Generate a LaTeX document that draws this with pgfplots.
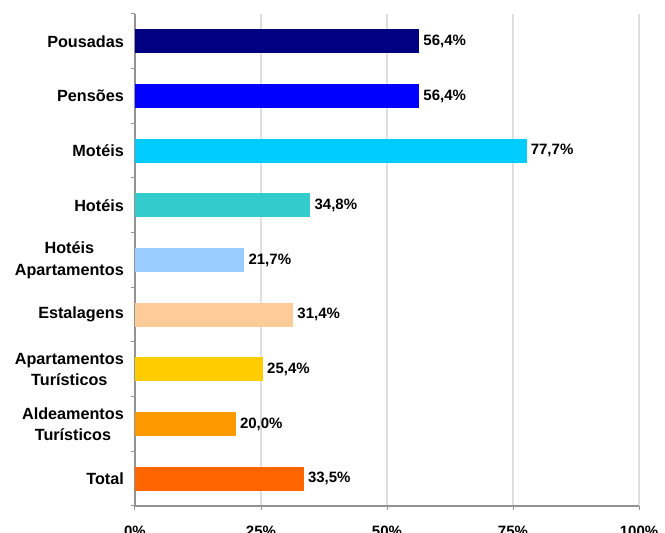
\documentclass[border=0pt]{standalone}
\usepackage{fontspec}
\setmainfont{Liberation Sans}
\usepackage{pgfplots}
\pgfplotsset{compat=1.18}

\definecolor{cPous}{HTML}{000080}
\definecolor{cPens}{HTML}{0000FF}
\definecolor{cMote}{HTML}{00CCFF}
\definecolor{cHote}{HTML}{33CCCC}
\definecolor{cHApt}{HTML}{99CCFF}
\definecolor{cEsta}{HTML}{FFCC99}
\definecolor{cApTu}{HTML}{FFCC00}
\definecolor{cAlTu}{HTML}{FF9900}
\definecolor{cTot}{HTML}{FF6600}

\newcommand\lbl{\fontsize{15}{21}\selectfont\bfseries}
\newcommand\cat{\fontsize{16.2}{21.5}\selectfont\bfseries}

\begin{document}
\begin{tikzpicture}
\begin{axis}[
    width=504pt, height=492pt, scale only axis,
    xbar, bar width=24pt, bar shift=0pt,
    xmin=0, xmax=100, ymin=-0.5, ymax=8.5,
    axis x line*=bottom, axis y line*=left,
    axis line style={draw=gray!85, line width=1.2pt},
    /pgf/number format/assume math mode=true,
    xtick={0,25,50,75,100},
    xticklabel={\pgfmathprintnumber{\tick}\%},
    xmajorgrids, grid style={draw=gray!25, line width=1.5pt},
    ytick={0,...,8},
    yticklabels={Total,{Aldeamentos\\Turísticos},{Apartamentos\\Turísticos},
        Estalagens,{Hotéis\\Apartamentos},Hotéis,Motéis,Pensões,Pousadas},
    minor ytick={-0.5,0.5,...,8.5},
    major y tick style={draw=none},
    tick align=outside,
    major tick length=4pt, minor tick length=4pt,
    tick style={draw=gray!85, line width=1pt},
    yticklabel style={align=center, font=\cat, inner sep=0pt, xshift=-7pt},
    xticklabel style={font=\lbl, inner sep=0pt, yshift=-16pt},
    point meta=x,
    nodes near coords={\pgfmathprintnumber[fixed,fixed zerofill,precision=1,use comma]{\pgfplotspointmeta}\%},
    nodes near coords style={anchor=west, font=\lbl, inner sep=4pt},
]
\addplot[fill=cTot, draw=none] coordinates {(33.5,0)};
\addplot[fill=cAlTu, draw=none] coordinates {(20.0,1)};
\addplot[fill=cApTu, draw=none] coordinates {(25.4,2)};
\addplot[fill=cEsta, draw=none] coordinates {(31.4,3)};
\addplot[fill=cHApt, draw=none] coordinates {(21.7,4)};
\addplot[fill=cHote, draw=none] coordinates {(34.8,5)};
\addplot[fill=cMote, draw=none] coordinates {(77.7,6)};
\addplot[fill=cPens, draw=none] coordinates {(56.4,7)};
\addplot[fill=cPous, draw=none] coordinates {(56.4,8)};
\coordinate (bl) at (rel axis cs:0,0);
\coordinate (tr) at (rel axis cs:1,1);
\end{axis}
\pgfresetboundingbox
\path ([xshift=-135pt,yshift=-27pt]bl) rectangle ([xshift=26pt,yshift=14pt]tr);
\end{tikzpicture}
\end{document}
